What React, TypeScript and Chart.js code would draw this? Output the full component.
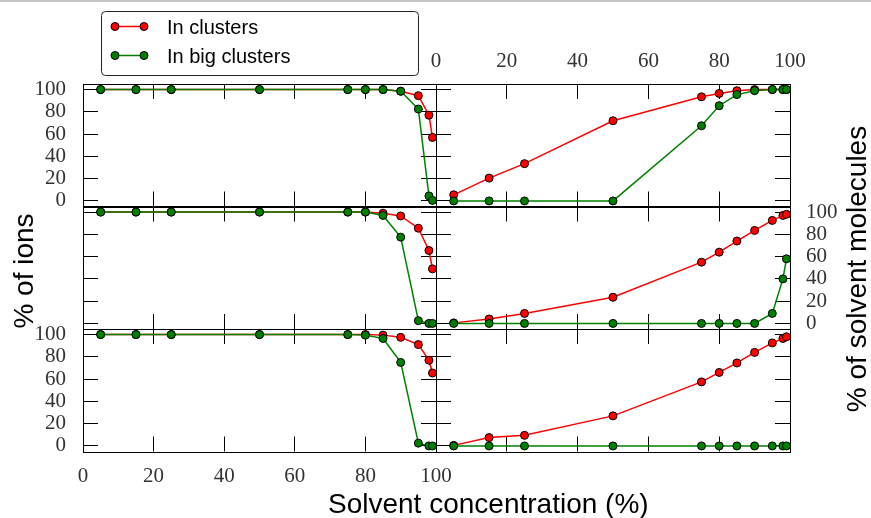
import React, { useEffect, useRef } from 'react';
import { Chart, registerables } from 'chart.js';
Chart.register(...registerables);

// ---------- data ----------
const concentration = [5, 15, 25, 50, 75, 80, 85, 90, 95, 98, 99];
const tickValues = [0, 20, 40, 60, 80, 100];
const seriesNames = ['In clusters', 'In big clusters'];

// % of ions (left column), rows A, B, C
const ionsInClustersA = [100, 100, 100, 100, 100, 100, 100, 98.5, 94.5, 77, 57];
const ionsInBigClustersA = [100, 100, 100, 100, 100, 100, 100, 98.5, 82.5, 4.5, 0.5];
const ionsInClustersB = [100, 100, 100, 100, 100, 100, 99, 96.5, 85.5, 65.5, 49];
const ionsInBigClustersB = [100, 100, 100, 100, 100, 100, 97, 77.5, 2.5, 0, 0];
const ionsInClustersC = [100, 100, 100, 100, 100, 100, 99.5, 97.5, 91, 77, 65.5];
const ionsInBigClustersC = [100, 100, 100, 100, 100, 99.5, 96.5, 75, 2.5, 0, 0];

// % of solvent molecules (right column), rows A, B, C
const solventInClustersA = [5.5, 20.5, 33.5, 72, 93.5, 96.5, 99, 100, 100, 100, 100];
const solventInBigClustersA = [0, 0, 0, 0, 67.5, 85.5, 95.5, 99, 100, 100, 100];
const solventInClustersB = [0.5, 4, 9, 23.5, 55, 64, 74, 83.5, 92.5, 97, 98];
const solventInBigClustersB = [0, 0, 0, 0, 0, 0, 0, 0, 9, 40, 58];
const solventInClustersC = [0.5, 7.5, 9.5, 27, 57.5, 66, 74.5, 84, 92.5, 96.5, 98];
const solventInBigClustersC = [0, 0, 0, 0, 0, 0, 0, 0, 0, 0, 0];

const xTitle = 'Solvent concentration (%)';
const yLeftTitle = '% of ions';
const yRightTitle = '% of solvent molecules';

// ---------- layout / style ----------
const W = 871;
const H = 518;
const colEdges = [83, 436, 790];
const rowEdges = [84, 206.5, 329, 451.5];
const RED = '#ff0000';
const GREEN = '#008000';
const tickFont = { family: '"Liberation Serif", serif', size: 21 };
const sansFamily = '"Liberation Sans", Arial, sans-serif';

type PanelDef = {
  col: number;
  row: number;
  red: number[];
  green: number[];
  yAxis: 'left' | 'right' | null;
  xAxis: 'top' | 'bottom' | null;
  decor?: boolean;
};

const panels: PanelDef[] = [
  { col: 0, row: 0, red: ionsInClustersA, green: ionsInBigClustersA, yAxis: 'left', xAxis: null, decor: true },
  { col: 1, row: 0, red: solventInClustersA, green: solventInBigClustersA, yAxis: null, xAxis: 'top' },
  { col: 0, row: 1, red: ionsInClustersB, green: ionsInBigClustersB, yAxis: null, xAxis: null },
  { col: 1, row: 1, red: solventInClustersB, green: solventInBigClustersB, yAxis: 'right', xAxis: null },
  { col: 0, row: 2, red: ionsInClustersC, green: ionsInBigClustersC, yAxis: 'left', xAxis: 'bottom' },
  { col: 1, row: 2, red: solventInClustersC, green: solventInBigClustersC, yAxis: null, xAxis: null },
];

const crisp = (v: number) => Math.floor(v) + 0.5;

const frameTicksPlugin = {
  id: 'frameTicks',
  beforeDatasetsDraw(chart: any) {
    const { ctx, chartArea, scales } = chart;
    const { left, right, top, bottom } = chartArea;
    const xs = scales.x;
    const ys = scales.y;
    const L = 15;
    ctx.save();
    ctx.strokeStyle = '#000';
    ctx.lineWidth = 1;
    ctx.beginPath();
    for (const v of tickValues) {
      if (v === 0 || v === 100) continue;
      const px = crisp(xs.getPixelForValue(v));
      ctx.moveTo(px, top);
      ctx.lineTo(px, top + L);
      ctx.moveTo(px, bottom);
      ctx.lineTo(px, bottom - L);
    }
    for (const v of tickValues) {
      const py = crisp(ys.getPixelForValue(v));
      ctx.moveTo(left, py);
      ctx.lineTo(left + L, py);
      ctx.moveTo(right, py);
      ctx.lineTo(right - L, py);
    }
    ctx.stroke();
    ctx.strokeRect(crisp(left), crisp(top), Math.round(right - left), Math.round(bottom - top));
    ctx.restore();
  },
};

function drawMarker(ctx: CanvasRenderingContext2D, x: number, y: number, color: string) {
  ctx.beginPath();
  ctx.arc(x, y, 4, 0, Math.PI * 2);
  ctx.fillStyle = color;
  ctx.fill();
  ctx.lineWidth = 1;
  ctx.strokeStyle = '#000';
  ctx.stroke();
}

const decorPlugin = {
  id: 'decor',
  afterDraw(chart: any) {
    const ctx: CanvasRenderingContext2D = chart.ctx;
    ctx.save();
    // legend box
    ctx.beginPath();
    (ctx as any).roundRect(101.5, 11.5, 317, 64, 4);
    ctx.fillStyle = '#fff';
    ctx.fill();
    ctx.strokeStyle = '#222';
    ctx.lineWidth = 1;
    ctx.stroke();
    const colors = [RED, GREEN];
    const rowsY = [26.5, 55.5];
    seriesNames.forEach((name, i) => {
      const y = rowsY[i];
      ctx.beginPath();
      ctx.moveTo(115, y);
      ctx.lineTo(144, y);
      ctx.strokeStyle = colors[i];
      ctx.lineWidth = 1.5;
      ctx.stroke();
      drawMarker(ctx, 115, y, colors[i]);
      drawMarker(ctx, 144, y, colors[i]);
      ctx.fillStyle = '#000';
      ctx.font = `20px ${sansFamily}`;
      ctx.textAlign = 'left';
      ctx.textBaseline = 'alphabetic';
      ctx.fillText(name, 167, y + 7.5);
    });
    // axis titles
    ctx.fillStyle = '#000';
    ctx.font = `28px ${sansFamily}`;
    ctx.textAlign = 'left';
    ctx.textBaseline = 'alphabetic';
    ctx.fillText(xTitle, 328, 513);

    ctx.textAlign = 'center';
    ctx.save();
    ctx.translate(33, 271);
    ctx.rotate(-Math.PI / 2);
    ctx.fillText(yLeftTitle, 0, 0);
    ctx.restore();

    ctx.save();
    ctx.translate(866, 269);
    ctx.rotate(-Math.PI / 2);
    ctx.fillText(yRightTitle, 0, 0);
    ctx.restore();
    ctx.restore();
  },
};

function Panel({ def }: { def: PanelDef }) {
  const ref = useRef<HTMLCanvasElement>(null);
  useEffect(() => {
    const l = colEdges[def.col];
    const r = colEdges[def.col + 1];
    const t = rowEdges[def.row];
    const b = rowEdges[def.row + 1];
    const toPoints = (vals: number[]) => concentration.map((c, i) => ({ x: c, y: vals[i] }));
    const setTicks = (s: any) => {
      s.ticks = tickValues.map((v) => ({ value: v }));
    };
    const chart = new Chart(ref.current as HTMLCanvasElement, {
      type: 'line',
      data: {
        datasets: [
          {
            label: seriesNames[0],
            data: toPoints(def.red),
            borderColor: RED,
            backgroundColor: RED,
            borderWidth: 1.5,
            pointRadius: 4,
            pointBorderWidth: 1,
            pointBorderColor: '#000',
            pointBackgroundColor: RED,
            clip: false as any,
            order: 2,
            tension: 0,
          },
          {
            label: seriesNames[1],
            data: toPoints(def.green),
            borderColor: GREEN,
            backgroundColor: GREEN,
            borderWidth: 1.5,
            pointRadius: 4,
            pointBorderWidth: 1,
            pointBorderColor: '#000',
            pointBackgroundColor: GREEN,
            clip: false as any,
            order: 1,
            tension: 0,
          },
        ],
      },
      options: {
        responsive: false,
        animation: false,
        events: [],
        devicePixelRatio: 1,
        layout: {
          padding: {
            left: def.yAxis === 'left' ? 0 : l,
            right: def.yAxis === 'right' ? 0 : W - r,
            top: def.xAxis === 'top' ? 0 : t,
            bottom: def.xAxis === 'bottom' ? 0 : H - b,
          },
        },
        plugins: {
          legend: { display: false },
          tooltip: { enabled: false },
          title: { display: false },
        },
        scales: {
          x: {
            type: 'linear',
            min: 0,
            max: 100,
            position: def.xAxis ?? 'bottom',
            display: !!def.xAxis,
            afterBuildTicks: setTicks,
            afterFit: (s: any) => {
              if (def.xAxis) s.height = def.xAxis === 'top' ? t : H - b;
            },
            grid: { display: false, drawTicks: false },
            border: { display: false },
            ticks: {
              font: tickFont,
              color: '#333',
              padding: def.xAxis === 'top' ? 10 : 12,
              maxRotation: 0,
              autoSkip: false,
            },
          },
          y: {
            type: 'linear',
            min: -5,
            max: 105,
            position: def.yAxis ?? 'left',
            display: !!def.yAxis,
            afterBuildTicks: setTicks,
            afterFit: (s: any) => {
              if (def.yAxis) s.width = def.yAxis === 'left' ? l : W - r;
            },
            grid: { display: false, drawTicks: false },
            border: { display: false },
            ticks: {
              font: tickFont,
              color: '#333',
              padding: def.yAxis === 'left' ? 17 : 16,
              autoSkip: false,
            },
          },
        },
      } as any,
      plugins: def.decor ? [frameTicksPlugin, decorPlugin] : [frameTicksPlugin],
    });
    return () => chart.destroy();
  }, []);
  return (
    <canvas
      ref={ref}
      width={W}
      height={H}
      style={{ position: 'absolute', left: 0, top: 0, width: W, height: H }}
    />
  );
}

export default function App() {
  return (
    <div
      style={{
        position: 'absolute',
        left: 0,
        top: 0,
        width: W,
        height: H,
        background: '#fff',
        overflow: 'hidden',
      }}
    >
      <div style={{ position: 'absolute', left: 0, top: 0, width: W, height: 2, background: '#c4c4c4' }} />
      {panels.map((p, i) => (
        <Panel key={i} def={p} />
      ))}
    </div>
  );
}
